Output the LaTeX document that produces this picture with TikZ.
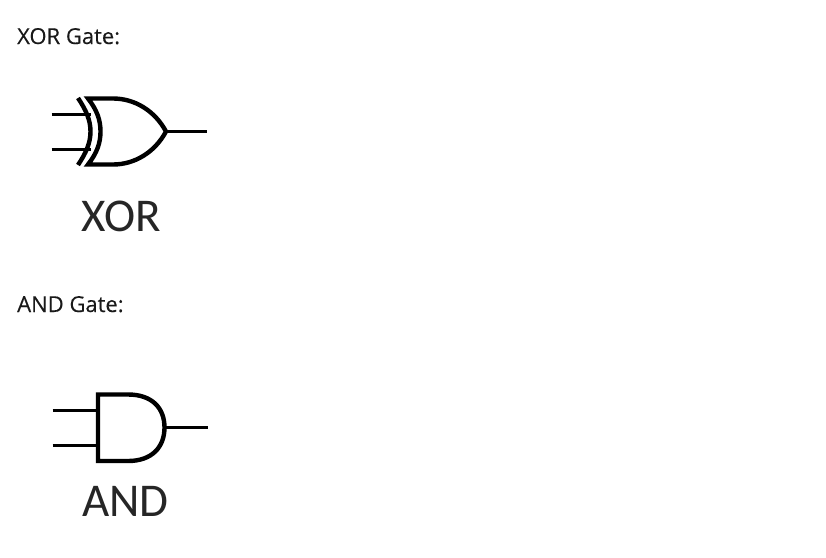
\documentclass[tikz,border=0pt]{standalone}
\usepackage{fontspec}
\setmainfont{Open Sans}[FakeBold=0.25]
\newfontfamily\gatefont{Carlito}
\begin{document}
\begin{tikzpicture}
        [%%%%%%%%%%%%%%%%%%%%%%%%%%%%%%
            x=1pt,y=-1pt,
            heading/.style={anchor=base west,inner sep=0pt,text=black!90,font=\fontsize{22}{26}\selectfont},
            gatelabel/.style={anchor=base,inner sep=0pt,text=black!85,font=\gatefont\fontsize{47}{52}\selectfont},
            body/.style={line width=4.4pt,line join=miter},
            wire/.style={line width=2.6pt},
        ]%%%%%%%%%%%%%%%%%%%%%%%%%%%%%%
        \useasboundingbox (0,0) rectangle (826,557);

        \node[heading] (xorhead) at (17,44) {XOR Gate:};
        \node[heading] (andhead) at (17,312) {AND Gate:};

        % xor gate
        \coordinate (xortop) at (88,98.5);
        \coordinate (xorbot) at (88,164.5);
        \coordinate (xortip) at (166,131.5);
        \coordinate (xorout) at (207,131.5);
        \coordinate (xorina) at (51.5,114.5);
        \coordinate (xorinb) at (51.5,149.5);
        \coordinate (xorenda) at (91,114.5);
        \coordinate (xorendb) at (91,149.5);
        \draw[wire] (xorina) -- (xorenda);
        \draw[wire] (xorinb) -- (xorendb);
        \draw[wire] (xortip) -- (xorout);
        \draw[body] (xortop) .. controls (97,110) and (100.5,120) .. (100.5,131.5) .. controls (100.5,143) and (97,153) .. (xorbot)
            -- (113,164.5) .. controls (135,164.5) and (155,152) .. (xortip)
            .. controls (155,111) and (135,98.5) .. (113,98.5) -- cycle;
        \draw[body] (78,98) .. controls (86,110) and (90.5,120) .. (90.5,131.5) .. controls (90.5,143) and (86,153) .. (78,165);
        \node[gatelabel] (xorlabel) at (121,231) {XOR};

        % and gate
        \coordinate (andtop) at (98,394.5);
        \coordinate (andbot) at (98,461);
        \coordinate (andtip) at (164.5,427.5);
        \coordinate (andout) at (208,427.5);
        \coordinate (andina) at (52.5,410.5);
        \coordinate (andinb) at (52.5,445.5);
        \coordinate (andenda) at (98,410.5);
        \coordinate (andendb) at (98,445.5);
        \draw[wire] (andina) -- (andenda);
        \draw[wire] (andinb) -- (andendb);
        \draw[wire] (andtip) -- (andout);
        \draw[body] (andtop) -- (128,394.5) .. controls (152,394.5) and (164.5,408) .. (andtip)
            .. controls (164.5,447) and (152,461) .. (128,461) -- (andbot) -- cycle;
        \node[gatelabel] (andlabel) at (125.5,516) {AND};
    \end{tikzpicture}
\end{document}
